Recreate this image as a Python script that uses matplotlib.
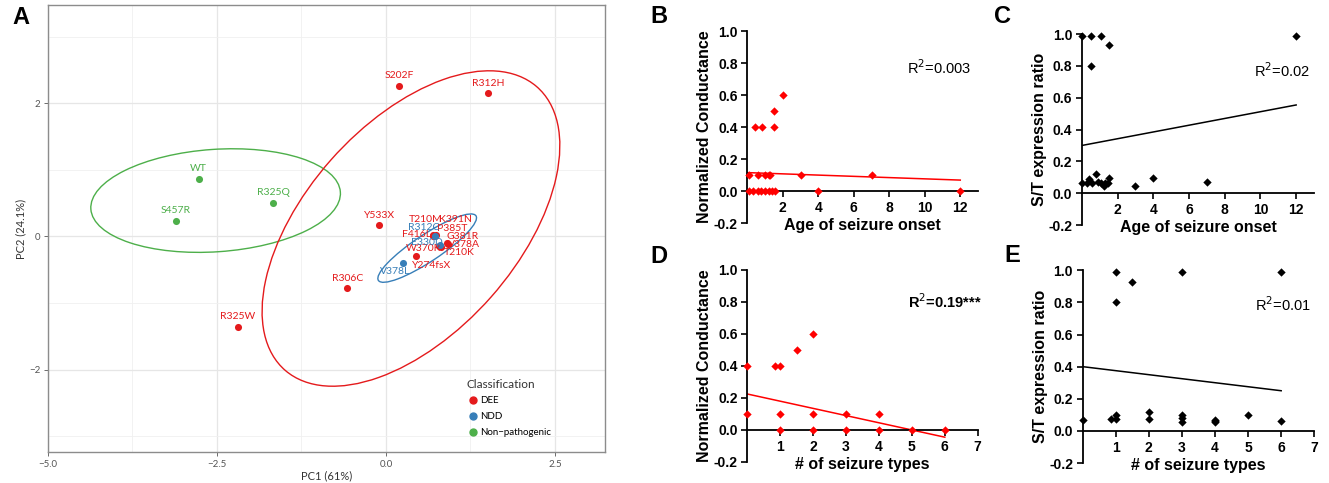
import matplotlib
matplotlib.use('Agg')
import matplotlib.pyplot as plt
from matplotlib.patches import Ellipse
from matplotlib.lines import Line2D

# ---------------- Panel A data (PCA) ----------------
dee_names = ['S202F', 'R312H', 'Y533X', 'T210M', 'K391N', 'P385T', 'F416L',
             'G381R', 'V378A', 'W370R', 'T210K', 'Y274fsX', 'R306C', 'R325W']
dee_pc1 = [0.20, 1.51, -0.10, 0.70, 0.74, 0.73, 0.69, 0.90, 0.92, 0.79, 0.81, 0.44, -0.57, -2.19]
dee_pc2 = [2.27, 2.15, 0.17, 0.02, 0.02, 0.01, 0.01, -0.10, -0.12, -0.15, -0.16, -0.30, -0.78, -1.36]

ndd_names = ['R312C', 'E330D', 'V378L']
ndd_pc1 = [0.72, 0.80, 0.25]
ndd_pc2 = [0.00, -0.13, -0.40]

np_names = ['WT', 'R325Q', 'S457R']
np_pc1 = [-2.77, -1.67, -3.11]
np_pc2 = [0.87, 0.51, 0.24]

# label offsets (layout only)
label_off = {
    'S202F': (0.0, 0.15), 'R312H': (0.0, 0.15), 'Y533X': (0.0, 0.15),
    'T210M': (-0.12, 0.23), 'K391N': (0.29, 0.23), 'P385T': (0.25, 0.115),
    'F416L': (-0.23, 0.02), 'G381R': (0.24, 0.10), 'V378A': (0.24, -0.005),
    'W370R': (-0.24, -0.035), 'T210K': (0.27, -0.08), 'Y274fsX': (0.24, -0.13),
    'R306C': (0.0, 0.15), 'R325W': (0.0, 0.15),
    'R312C': (-0.16, 0.135), 'E330D': (-0.19, 0.045), 'V378L': (-0.11, -0.13),
    'WT': (0.0, 0.15), 'R325Q': (0.0, 0.15), 'S457R': (0.0, 0.15),
}

# stat ellipses: centre x, centre y, semi-major, semi-minor, angle (deg)
ell_dee = [0.37, 0.12, 2.83, 1.57, 49.0]
ell_ndd = [0.61, -0.175, 0.87, 0.20, 34.0]
ell_np = [-2.52, 0.54, 1.85, 0.77, 4.0]

# ---------------- Panels B-E data ----------------
b_age = [0.08, 0.33, 0.58, 0.8, 1.0, 1.2, 1.4, 1.58, 4.0, 12.0,
         0.08, 0.6, 1.0, 1.2, 1.3, 3.0, 7.0,
         0.42, 0.83, 1.5, 1.5, 2.0]
b_cond = [0.0, 0.0, 0.0, 0.0, 0.0, 0.0, 0.0, 0.0, 0.0, 0.0,
          0.1, 0.1, 0.1, 0.1, 0.1, 0.1, 0.1,
          0.4, 0.4, 0.4, 0.5, 0.6]
b_fit = [0.115, -0.0039]   # intercept, slope

c_age = [0.0, 0.53, 1.06, 12.0, 1.53, 0.48,
         0.0, 0.27, 0.4, 0.55, 0.78, 0.9, 1.08, 1.22, 1.31, 1.5, 1.44, 2.95, 3.96, 7.0]
c_ratio = [0.99, 0.99, 0.99, 0.99, 0.93, 0.80,
           0.063, 0.063, 0.09, 0.067, 0.12, 0.073, 0.067, 0.048, 0.063, 0.094, 0.067, 0.048, 0.094, 0.073]
c_fit = [0.30, 0.0212]

d_types = [0, 0.83, 1, 1.5, 2, 0, 1, 2, 3, 4, 1, 2, 3, 4, 5, 6]
d_cond = [0.4, 0.4, 0.4, 0.5, 0.6, 0.1, 0.1, 0.1, 0.1, 0.1, 0.0, 0.0, 0.0, 0.0, 0.0, 0.0]
d_fit = [0.225, -0.045]

e_types = [1, 3, 6, 1.5, 1, 0, 0.85, 1, 1, 2, 2, 3, 3, 3, 4, 4, 4, 5, 6]
e_ratio = [0.99, 0.99, 0.99, 0.93, 0.80, 0.068, 0.077, 0.10, 0.077, 0.12, 0.077,
           0.10, 0.08, 0.056, 0.068, 0.062, 0.056, 0.097, 0.062]
e_fit = [0.40, -0.025]

RED = '#E41A1C'
BLUE = '#377EB8'
GREEN = '#4DAF4A'
NARROW = ['Lato', 'DejaVu Sans']
ARIAL = ['Liberation Sans', 'DejaVu Sans']

fig = plt.figure(figsize=(13.29, 4.83), dpi=100)

# ---------------- Panel A ----------------
axA = fig.add_axes([0.0361, 0.0642, 0.4191, 0.9254])
axA.set_xlim(-5, 3.24)
axA.set_ylim(-3.24, 3.48)
axA.set_xticks([-5, -2.5, 0, 2.5])
axA.set_xticklabels(['\u22125.0', '\u22122.5', '0.0', '2.5'])
axA.set_yticks([-2, 0, 2])
axA.set_yticklabels(['\u22122', '0', '2'])
axA.set_xticks([-3.75, -1.25, 1.25], minor=True)
axA.set_yticks([-3, -1, 1, 3], minor=True)
axA.grid(True, which='major', color='#e6e6e6', lw=0.9)
axA.grid(True, which='minor', color='#f0f0f0', lw=0.6)
axA.set_axisbelow(True)
axA.tick_params(which='major', length=3, color='#555555', labelsize=7,
                labelcolor='#555555', width=0.6, pad=2.5)
axA.tick_params(which='minor', length=0)
for lab in axA.get_xticklabels() + axA.get_yticklabels():
    lab.set_family(NARROW)
for s in axA.spines.values():
    s.set_color('#8c8c8c')
    s.set_linewidth(1.0)
axA.set_xlabel('PC1 (61%)', fontsize=8, color='#333333', family=NARROW, labelpad=1)
axA.set_ylabel('PC2 (24.1%)', fontsize=8, color='#333333', family=NARROW, labelpad=2)

for ell, col in [(ell_np, GREEN), (ell_dee, RED), (ell_ndd, BLUE)]:
    axA.add_patch(Ellipse((ell[0], ell[1]), 2 * ell[2], 2 * ell[3], angle=ell[4],
                          fill=False, edgecolor=col, lw=1.0))

for names, xs, ys, col in [(np_names, np_pc1, np_pc2, GREEN),
                           (dee_names, dee_pc1, dee_pc2, RED),
                           (ndd_names, ndd_pc1, ndd_pc2, BLUE)]:
    axA.scatter(xs, ys, s=26, color=col, zorder=3, linewidths=0)
    for n, x, y in zip(names, xs, ys):
        dx, dy = label_off[n]
        axA.text(x + dx, y + dy, n, color=col, fontsize=7.5, ha='center', va='center',
                 family=NARROW, zorder=4)

handles = [Line2D([], [], marker='o', ls='', color=c, markersize=5)
           for c in [RED, BLUE, GREEN]]
leg = axA.legend(handles, ['DEE', 'NDD', 'Non\u2212pathogenic'], title='Classification',
                 loc='lower left', bbox_to_anchor=(0.745, 0.025), frameon=False,
                 prop={'family': NARROW, 'size': 7}, handletextpad=0.2,
                 labelspacing=0.7, handlelength=1.2, borderaxespad=0)
leg.get_title().set_fontsize(8.5)
leg.get_title().set_family(NARROW)
leg.get_title().set_color('#333333')
leg._legend_box.align = 'left'

fig.text(0.009, 0.95, 'A', fontsize=17, fontweight='bold', family=ARIAL)


# ---------------- Panels B-E ----------------
def prism_panel(rect, xs, ys, color, fit, xlim, xticks, fit_x, r2_text, r2_xy,
                r2_bold, xlabel, ylabel):
    ax = fig.add_axes(rect)
    ax.set_xlim(*xlim)
    ax.set_ylim(-0.2, 1.0)
    ax.scatter(xs, ys, marker='D', s=18, color=color, zorder=3, clip_on=False,
               linewidths=0)
    fx = [fit_x[0], fit_x[1]]
    fy = [fit[0] + fit[1] * v for v in fx]
    ax.plot(fx, fy, color=color, lw=1.1, zorder=2)
    ax.spines['top'].set_visible(False)
    ax.spines['right'].set_visible(False)
    ax.spines['bottom'].set_position(('data', 0))
    for s in ['left', 'bottom']:
        ax.spines[s].set_linewidth(1.3)
    ax.set_yticks([-0.2, 0, 0.2, 0.4, 0.6, 0.8, 1.0])
    ax.set_yticklabels(['-0.2', '0.0', '0.2', '0.4', '0.6', '0.8', '1.0'])
    ax.set_xticks(xticks)
    ax.set_xticklabels([str(t) for t in xticks])
    ax.tick_params(length=4.5, width=1.2, labelsize=10, pad=2.5)
    for lab in ax.get_xticklabels() + ax.get_yticklabels():
        lab.set_family(ARIAL)
        lab.set_fontweight('bold')
    ax.set_xlabel(xlabel, fontsize=11.5, fontweight='bold', family=ARIAL)
    ax.xaxis.set_label_coords(0.5, 0.025)
    ax.set_ylabel(ylabel, fontsize=11.5, fontweight='bold', family=ARIAL, labelpad=1)
    ax.text(r2_xy[0], r2_xy[1], r2_text, fontsize=10.5, ha='center', va='center',
            fontweight='bold' if r2_bold else 'normal', family=ARIAL)
    return ax


prism_panel([0.5623, 0.5383, 0.1736, 0.3975], b_age, b_cond, '#FF0000', b_fit,
            (0, 13), [2, 4, 6, 8, 10, 12], (0, 12), 'R$^2$=0.003', (10.8, 0.77),
            False, 'Age of seizure onset', 'Normalized Conductance')
prism_panel([0.8141, 0.5341, 0.1746, 0.3954], c_age, c_ratio, 'black', c_fit,
            (0, 13), [2, 4, 6, 8, 10, 12], (0, 12), 'R$^2$=0.02', (11.2, 0.77),
            False, 'Age of seizure onset', 'S/T expression ratio')
prism_panel([0.5623, 0.0435, 0.1734, 0.3975], d_types, d_cond, '#FF0000', d_fit,
            (0, 7), [1, 2, 3, 4, 5, 6, 7], (0, 6), 'R$^2$=0.19***', (6.0, 0.80),
            True, '# of seizure types', 'Normalized Conductance')
prism_panel([0.8146, 0.0414, 0.1743, 0.3990], e_types, e_ratio, 'black', e_fit,
            (0, 7), [1, 2, 3, 4, 5, 6, 7], (0, 6), 'R$^2$=0.01', (6.05, 0.785),
            False, '# of seizure types', 'S/T expression ratio')

for letter, x, y in [('B', 0.489, 0.952), ('C', 0.748, 0.952),
                     ('D', 0.489, 0.455), ('E', 0.756, 0.458)]:
    fig.text(x, y, letter, fontsize=17, fontweight='bold', family=ARIAL)

fig.savefig('out.png', dpi=100)
